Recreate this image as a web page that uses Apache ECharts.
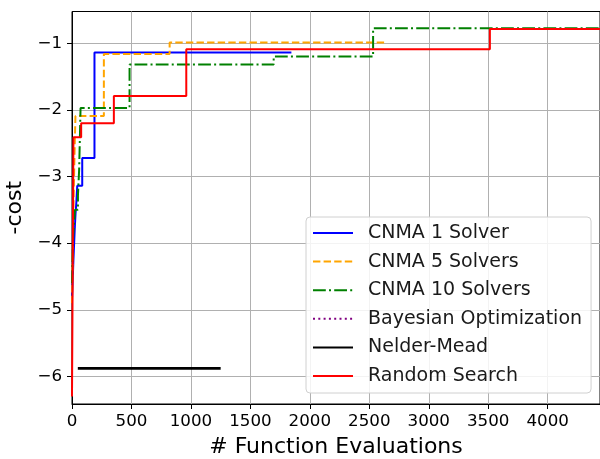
<!DOCTYPE html>
<html>
<head>
<meta charset="utf-8">
<script src="https://cdn.jsdelivr.net/npm/echarts@6/dist/echarts.min.js"></script>
<style>
  html, body { margin: 0; padding: 0; background: #ffffff; }
  #chart { width: 600px; height: 459px; }
</style>
</head>
<body>
<div id="chart"></div>
<script>
// Best -cost found so far, as [function evaluations, value] at each improvement.
const cnma1 = [[0, -4.83], [6, -4.55], [12, -4.25], [18, -4.0], [24, -3.75], [30, -3.55], [37, -3.38], [44, -3.14], [86, -2.72], [189, -1.14], [1845, -1.14]];
const cnma5 = [[0, -4.9], [8, -3.9], [15, -3.2], [22, -2.6], [29, -2.09], [268, -1.16], [821, -0.99], [2630, -0.99]];
const cnma10 = [[0, -4.6], [10, -3.9], [25, -3.5], [50, -3.28], [60, -2.9], [72, -1.97], [484, -1.32], [1696, -1.2], [2532, -0.775], [4440, -0.775]];
const bayesian = [];
const nelderMead = [[49, -5.88], [1250, -5.88]];
const randomSearch = [[0, -6.3], [12, -2.41], [77, -2.2], [352, -1.79], [961, -1.09], [3514, -0.785], [4440, -0.785]];

// Axis ranges and tick values
const xRange = [0, 4440];
const yRange = [-6.414, -0.523];
const yTicks = [-6, -5, -4, -3, -2, -1];

const FONT = 'DejaVu Sans';
const minus = v => (v < 0 ? '\u2212' + Math.abs(v) : String(v));

const chart = echarts.init(document.getElementById('chart'), null, { renderer: 'canvas' });

function stepLine(name, data, color, type, width) {
  return {
    name, type: 'line', data, step: 'end', symbol: 'none',
    lineStyle: { color, width, type },
    itemStyle: { color },
    clip: true, z: 3
  };
}

chart.setOption({
  animation: false,
  backgroundColor: '#ffffff',
  textStyle: { fontFamily: FONT },
  grid: {
    left: 72, right: 0, top: 11.5, bottom: 55,
    outerBoundsMode: 'none', containLabel: false,
    show: true, borderColor: '#000000', borderWidth: 1, backgroundColor: 'transparent'
  },
  xAxis: {
    type: 'value', min: xRange[0], max: xRange[1], interval: 500,
    name: '# Function Evaluations', nameLocation: 'middle', nameGap: 32,
    nameTextStyle: { fontFamily: FONT, fontSize: 22, color: '#000000' },
    axisLine: { show: true, lineStyle: { color: '#000000', width: 1 } },
    axisTick: { show: true, inside: false, length: 5, lineStyle: { color: '#000000' } },
    axisLabel: { fontFamily: FONT, fontSize: 16.7, color: '#000000', margin: 9, showMaxLabel: false, formatter: v => String(v) },
    splitLine: { show: true, lineStyle: { color: '#b0b0b0', width: 1 } }
  },
  yAxis: {
    type: 'value', min: yRange[0], max: yRange[1], splitNumber: 5,
    name: '-cost', nameLocation: 'middle', nameGap: 37,
    nameTextStyle: { fontFamily: FONT, fontSize: 22, color: '#000000' },
    axisLine: { show: true, lineStyle: { color: '#000000', width: 1 } },
    axisTick: { show: true, inside: false, length: 5, customValues: yTicks, lineStyle: { color: '#000000' } },
    axisLabel: { fontFamily: FONT, fontSize: 16.7, color: '#000000', margin: 10, customValues: yTicks, formatter: minus },
    splitLine: { show: true, lineStyle: { color: '#b0b0b0', width: 1 } }
  },
  legend: {
    orient: 'vertical', left: 306, top: 217,
    padding: [6, 9, 7, 6],
    itemWidth: 40, itemHeight: 14, itemGap: 8.6,
    backgroundColor: 'rgba(255,255,255,0.85)',
    borderColor: '#d0d0d0', borderWidth: 1, borderRadius: 4,
    itemStyle: { opacity: 0 },
    textStyle: { fontFamily: FONT, fontSize: 19, color: '#1a1a1a', lineHeight: 20, padding: [0, 0, 0, 10] },
    data: ['CNMA 1 Solver', 'CNMA 5 Solvers', 'CNMA 10 Solvers', 'Bayesian Optimization', 'Nelder-Mead', 'Random Search']
  },
  series: [
    stepLine('CNMA 1 Solver', cnma1, '#0000ff', 'solid', 2),
    stepLine('CNMA 5 Solvers', cnma5, '#ffa500', [7.4, 3.2], 2),
    stepLine('CNMA 10 Solvers', cnma10, '#008000', [12.8, 3.2, 2, 3.2], 2),
    stepLine('Bayesian Optimization', bayesian, '#800080', [2, 3.3], 2),
    stepLine('Nelder-Mead', nelderMead, '#000000', 'solid', 2.6),
    stepLine('Random Search', randomSearch, '#ff0000', 'solid', 2)
  ]
});
</script>
</body>
</html>
